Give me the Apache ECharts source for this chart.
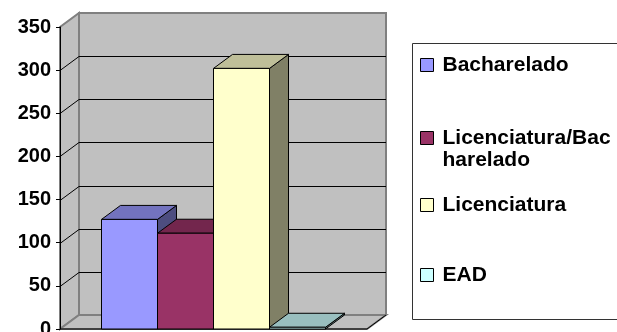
<!DOCTYPE html>
<html>
<head>
<meta charset="utf-8">
<script src="https://cdn.jsdelivr.net/npm/echarts@6/dist/echarts.min.js"></script>
<style>
  html, body { margin: 0; padding: 0; background: #fff; }
  #main { width: 617px; height: 332px; }
</style>
</head>
<body>
<div id="main"></div>
<script>
// dados do gráfico
var categories = ['Bacharelado', 'Licenciatura/Bacharelado', 'Licenciatura', 'EAD'];
var values = [127, 111, 302, 2];
var yTicks = [0, 50, 100, 150, 200, 250, 300, 350];

var frontColors = ['#9999ff', '#993366', '#ffffcc', '#ccffff'];
var topColors = ['#7373bf', '#73264d', '#bfbf99', '#99bfbf'];
var sideColors = ['#4d4d80', '#4d1a33', '#808066', '#668080'];

var yMax = yTicks[yTicks.length - 1];
var DX = 19, DY = -14;   // profundidade do efeito 3D
var FONT = 'Liberation Sans, Arial, sans-serif';

var myChart = echarts.init(document.getElementById('main'));

// paredes, chão e linhas de grade
function renderWalls(params, api) {
  var p0 = api.coord([0, 0]);
  var p1 = api.coord([1, yMax]);
  var L = p0[0], R = p1[0], B = p0[1], T = p1[1];
  var wall = { fill: '#c0c0c0', stroke: '#808080', lineWidth: 2 };
  var kids = [
    { type: 'rect', shape: { x: L + DX, y: T + DY, width: R - L, height: B - T }, style: wall },
    { type: 'polygon', shape: { points: [[L, B], [L, T], [L + DX, T + DY], [L + DX, B + DY]] }, style: wall },
    { type: 'polygon', shape: { points: [[L, B], [R, B], [R + DX, B + DY], [L + DX, B + DY]] }, style: wall }
  ];
  yTicks.forEach(function (v) {
    if (v === 0 || v === yMax) return;
    var y = Math.round(api.coord([0, v])[1]) + 0.5;
    kids.push({ type: 'line', shape: { x1: L + DX, y1: y + DY, x2: R + DX, y2: y + DY }, style: { stroke: '#000', lineWidth: 1 } });
    kids.push({ type: 'line', shape: { x1: L, y1: y, x2: L + DX, y2: y + DY }, style: { stroke: '#000', lineWidth: 1 } });
  });
  kids.push({ type: 'line', shape: { x1: L, y1: B, x2: R, y2: B }, style: { stroke: '#000', lineWidth: 1 } });
  kids.push({ type: 'line', shape: { x1: R, y1: B, x2: R + DX, y2: B + DY }, style: { stroke: '#000', lineWidth: 1 } });
  return { type: 'group', children: kids };
}

// barra 3D
function makeBar(i) {
  return function (params, api) {
    var base = api.coord([api.value(0), 0]);
    var top = api.coord([api.value(0), api.value(1)]);
    var w = api.size([1, 0])[0];
    var xl = base[0] - w / 2, xr = base[0] + w / 2, yb = base[1], yt = top[1];
    return {
      type: 'group',
      children: [
        { type: 'polygon', shape: { points: [[xr, yt], [xr + DX, yt + DY], [xr + DX, yb + DY], [xr, yb]] },
          style: { fill: sideColors[i], stroke: '#000', lineWidth: 1 } },
        { type: 'polygon', shape: { points: [[xl, yt], [xr, yt], [xr + DX, yt + DY], [xl + DX, yt + DY]] },
          style: { fill: topColors[i], stroke: '#000', lineWidth: 1 } },
        { type: 'rect', shape: { x: xl, y: yt, width: xr - xl, height: yb - yt },
          style: { fill: frontColors[i], stroke: '#000', lineWidth: 1 } }
      ]
    };
  };
}

var series = [{
  type: 'custom',
  xAxisIndex: 0,
  yAxisIndex: 0,
  z: -1,
  silent: true,
  renderItem: renderWalls,
  data: [[0, 0]]
}];
categories.forEach(function (name, i) {
  series.push({
    name: name,
    type: 'custom',
    xAxisIndex: 1,
    yAxisIndex: 1,
    itemStyle: { color: frontColors[i], borderColor: '#000', borderWidth: 1 },
    renderItem: makeBar(i),
    data: [[name, values[i]]]
  });
});

var legendTops = [54, 105, 194, 264];
var option = {
  animation: false,
  grid: [
    { left: 60, top: 27, width: 307, bottom: 3, outerBoundsMode: 'none', containLabel: false },
    { left: 101.5, top: 27, width: 224, bottom: 3, outerBoundsMode: 'none', containLabel: false }
  ],
  xAxis: [
    { gridIndex: 0, type: 'value', min: 0, max: 1, show: false },
    { gridIndex: 1, type: 'category', data: categories, show: false }
  ],
  yAxis: [
    {
      gridIndex: 0, type: 'value', min: 0, max: yMax, interval: 50,
      axisLine: { show: true, lineStyle: { color: '#000', width: 1 } },
      axisTick: { show: true, length: 4, lineStyle: { color: '#000' } },
      splitLine: { show: false },
      axisLabel: { margin: 9, color: '#000', fontFamily: FONT, fontWeight: 'bold', fontSize: 20 }
    },
    { gridIndex: 1, type: 'value', min: 0, max: yMax, show: false }
  ],
  legend: categories.map(function (name, i) {
    return {
      data: [name],
      left: 420,
      top: legendTops[i],
      padding: 0,
      icon: 'rect',
      itemWidth: 13,
      itemHeight: 13,
      selectedMode: false,
      itemStyle: { borderColor: '#000', borderWidth: 1 },
      formatter: i === 1 ? '\nLicenciatura/Bac\nharelado' : '{name}',
      textStyle: {
        fontFamily: FONT, fontWeight: 'bold', fontSize: 21, color: '#000',
        lineHeight: 22, padding: [0, 0, 0, 4]
      }
    };
  }),
  graphic: [{
    type: 'rect',
    shape: { x: 412.5, y: 43.5, width: 240, height: 276 },
    style: { fill: 'none', stroke: '#333', lineWidth: 1 }
  }],
  series: series
};

myChart.setOption(option);
</script>
</body>
</html>
